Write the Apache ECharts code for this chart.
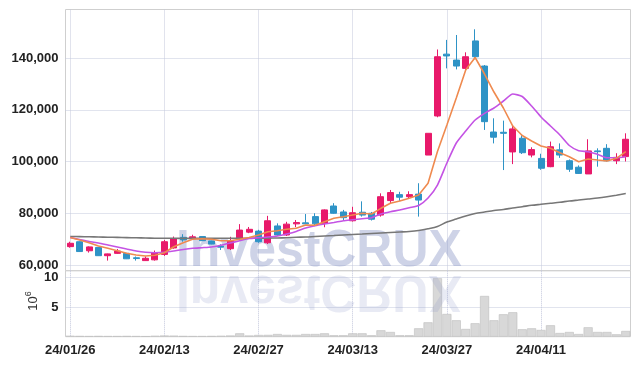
<!DOCTYPE html>
<html><head><meta charset="utf-8">
<script src="https://cdn.jsdelivr.net/npm/echarts@6/dist/echarts.min.js"></script>
<style>html,body{margin:0;padding:0;background:#fff}#c{width:639px;height:366px}</style>
</head><body><div id="c"></div>
<script>
const dates = ['24/01/26','24/01/29','24/01/30','24/01/31','24/02/01','24/02/02','24/02/05','24/02/06','24/02/07','24/02/08',
'24/02/13','24/02/14','24/02/15','24/02/16','24/02/19','24/02/20','24/02/21','24/02/22','24/02/23','24/02/26',
'24/02/27','24/02/28','24/02/29','24/03/04','24/03/05','24/03/06','24/03/07','24/03/08','24/03/11','24/03/12',
'24/03/13','24/03/14','24/03/15','24/03/18','24/03/19','24/03/20','24/03/21','24/03/22','24/03/25','24/03/26',
'24/03/27','24/03/28','24/03/29','24/04/01','24/04/02','24/04/03','24/04/04','24/04/05','24/04/08','24/04/09',
'24/04/11','24/04/12','24/04/15','24/04/16','24/04/17','24/04/18','24/04/19','24/04/22','24/04/23','24/04/24'];
const opens = [67100,69000,65500,66800,63600,64500,64500,62800,61700,62000,
64100,66600,70700,70200,71000,69300,67300,66300,70300,72700,
73100,68600,75100,71600,75900,76300,78700,76100,82800,80500,
77100,80400,80000,79300,84900,87200,86400,87400,102500,117600,
141500,139200,136000,146600,136900,111400,111300,103700,109000,102500,
101200,98000,104500,100300,97800,95200,104100,105100,100300,101900];
const closes = [68400,65200,67000,63600,64300,65400,62400,62500,62600,64700,
69000,70100,69700,70900,69400,68100,66900,69400,73500,73800,
69000,77100,71600,75800,76400,75900,75900,81300,80000,78300,
80200,79300,77700,86400,88000,86200,87200,85100,110900,140500,
140800,136900,140500,140500,115400,109400,110900,112600,103400,104600,
97400,105700,102500,97000,95400,104100,103800,100300,101600,108600];
const lows = [66700,65100,64800,63500,61700,64300,62300,61700,61600,61700,
63500,66300,69000,69700,69300,68000,65800,65800,70100,72300,
68600,68100,71200,71200,74600,75800,75000,74600,79800,77400,
76800,78700,77200,78700,83600,84800,85500,78700,102500,117100,
136000,135600,135400,139500,112200,107000,96700,99000,102900,101600,
96800,97800,101400,96000,95200,95200,98000,100000,99000,100000];
const highs = [69000,69100,67200,66900,64400,66200,64600,63300,63300,65600,
69700,71000,71900,71700,71100,69400,68000,70900,75800,74700,
73600,79000,76100,76700,77400,79700,80000,81500,83900,81300,
82500,84600,80500,87700,89000,88300,88500,91600,110900,143300,
147000,148900,142200,151100,137300,116700,115800,114100,110200,105500,
103000,107700,107000,100800,98500,108600,105100,106700,103200,110900];
const maShort = [70630,69660,68620,67340,66450,65530,64520,63870,63480,63750,
64750,67070,68620,69930,70170,69930,69390,69390,69930,70630,
71600,72870,73260,73800,74190,75460,75340,76740,78050,78670,
79330,79980,79710,81910,83850,84740,85780,87060,91580,103870,
114110,124550,135370,140200,133820,126860,120680,113720,110050,107930,
105990,105100,103400,101860,99930,100970,100580,100200,101240,103790];
const maMid = [70630,69860,69080,68500,67730,66960,66180,65410,64910,64750,
64910,65410,65990,66450,66690,66960,67650,68500,69390,70240,
70550,70820,71210,71980,72950,74300,75190,75850,76430,77120,
77510,77900,78280,79710,80600,81260,82150,83000,85900,90920,
99420,107150,111790,116040,118630,120680,123390,126090,125130,121450,
117200,113720,110250,106190,104180,103790,102790,101470,101470,101860];
const maLong = [71020,70980,70900,70820,70750,70670,70590,70510,70440,70360,
70320,70320,70300,70300,70300,70300,70320,70320,70340,70360,
70380,70400,70440,70550,70710,70820,71020,71210,71400,71600,
71790,71980,72180,72370,72560,72750,72950,73330,73990,74880,
76620,77780,78940,79900,80480,81060,81450,82030,82530,83070,
83460,83850,84230,84740,85120,85510,85900,86400,86980,87630];
const volumes = [0.15,0.12,0.1,0.12,0.1,0.1,0.12,0.1,0.08,0.15,
0.2,0.18,0.12,0.1,0.1,0.12,0.15,0.2,0.57,0.2,
0.29,0.3,0.45,0.3,0.3,0.45,0.45,0.57,0.24,0.24,
0.57,0.57,0.24,1.08,0.79,0.24,0.24,1.41,2.42,9.83,
3.82,2.76,1.30,2.26,6.85,2.76,3.77,4.11,1.25,1.41,
1.13,1.92,0.62,0.79,0.45,1.58,0.79,0.79,0.40,0.96];
const priceTicks = [60000,80000,100000,120000,140000];
const volumeTicks = [5,10];

const UP = '#e8196a', DOWN = '#2e93c6';
const GRID_LINE = {type:'dotted', color:'#c3c8dc', width:1};
const LABEL = {fontFamily:"'Liberation Sans',sans-serif", fontWeight:'bold', fontSize:13, color:'#222'};

const candleData = dates.map((d,i)=>[opens[i],closes[i],lows[i],highs[i]]);

const chart = echarts.init(document.getElementById('c'), null, {renderer:'canvas'});
chart.setOption({
  animation:false,
  grid:[
    {left:65.5,right:8.5,top:9.5,height:261.2,show:true,borderColor:'#cfcfcf',borderWidth:1,backgroundColor:'transparent'},
    {left:65.5,right:8.5,top:270.7,height:66,show:true,borderColor:'#cfcfcf',borderWidth:1,backgroundColor:'transparent'}
  ],
  xAxis:[
    {type:'category',gridIndex:0,data:dates,boundaryGap:true,axisLine:{show:false},axisTick:{show:false},axisLabel:{show:false},
     splitLine:{show:true,interval:9,alignWithLabel:true,lineStyle:GRID_LINE}},
    {type:'category',gridIndex:1,data:dates,boundaryGap:true,axisLine:{show:false},axisTick:{show:false},
     axisLabel:Object.assign({interval:9,margin:7},LABEL),
     splitLine:{show:true,interval:9,alignWithLabel:true,lineStyle:GRID_LINE}}
  ],
  yAxis:[
    {type:'value',gridIndex:0,min:57800,max:158750,axisLine:{show:false},
     axisTick:{show:false,customValues:priceTicks},
     axisLabel:Object.assign({customValues:priceTicks,margin:7,formatter:v=>v.toLocaleString('en-US')},LABEL),
     splitLine:{show:true,customValues:priceTicks,lineStyle:GRID_LINE}},
    {type:'value',gridIndex:1,min:0,max:11.1,axisLine:{show:false},
     axisTick:{show:false,customValues:volumeTicks},
     axisLabel:Object.assign({customValues:volumeTicks,margin:7},LABEL),
     splitLine:{show:true,customValues:volumeTicks,lineStyle:GRID_LINE}}
  ],
  graphic:[
    {type:'text',x:176,y:252,scaleX:0.96,z:1,silent:true,style:{text:'InvestCRUX',font:'bold 52px "Liberation Sans"',fill:'rgba(125,140,192,0.38)',verticalAlign:'middle',textAlign:'left'}},
    {type:'text',x:176,y:290,scaleX:0.96,scaleY:-1,z:10,silent:true,style:{text:'InvestCRUX',font:'bold 52px "Liberation Sans"',fill:'rgba(125,140,192,0.18)',verticalAlign:'middle',textAlign:'left'}},
    {type:'text',x:33,y:301,rotation:Math.PI/2,silent:true,style:{text:'{a|10}{b|6}',textAlign:'center',verticalAlign:'middle',
      rich:{a:{fontFamily:'"Liberation Sans"',fontSize:13,fill:'#333'},b:{fontFamily:'"Liberation Sans"',fontSize:9,fill:'#333',verticalAlign:'top',padding:[0,0,8,0]}}}}
  ],
  series:[
    {type:'candlestick',xAxisIndex:0,yAxisIndex:0,data:candleData,barWidth:6.5,
     itemStyle:{color:UP,color0:DOWN,borderColor:UP,borderColor0:DOWN,borderWidth:1}},
    {type:'line',xAxisIndex:0,yAxisIndex:0,data:maLong,showSymbol:false,smooth:0.3,lineStyle:{color:'#777',width:1.6}},
    {type:'line',xAxisIndex:0,yAxisIndex:0,data:maMid,showSymbol:false,smooth:0.2,lineStyle:{color:'#c453e4',width:1.6}},
    {type:'line',xAxisIndex:0,yAxisIndex:0,data:maShort,showSymbol:false,lineStyle:{color:'#ef8a4f',width:1.6}},
    {type:'bar',xAxisIndex:1,yAxisIndex:1,data:volumes,barCategoryGap:'4%',
     itemStyle:{color:'#d8d8d8',borderColor:'#bdbdbd',borderWidth:0.6}}
  ]
});
</script></body></html>
